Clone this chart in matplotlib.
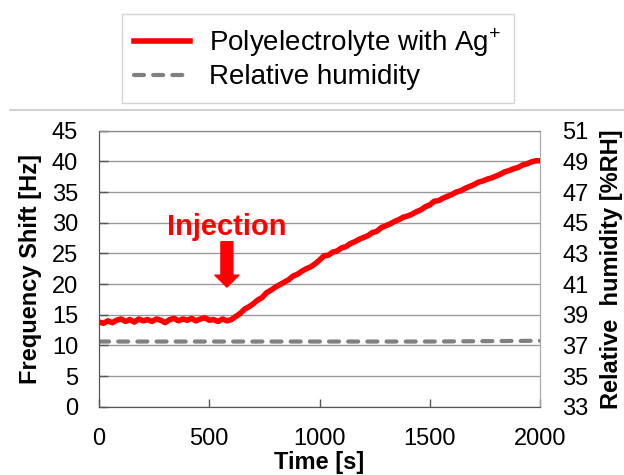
import matplotlib.pyplot as plt
from matplotlib.lines import Line2D

plt.rcParams['font.family'] = ['Liberation Sans', 'DejaVu Sans']
plt.rcParams['mathtext.fontset'] = 'custom'
plt.rcParams['mathtext.rm'] = 'Liberation Sans'

# frequency shift of the polyelectrolyte film, read every 20 s
time_s = list(range(0, 2001, 20))
freq_hz = [13.8, 13.6, 14.0, 13.7, 14.1, 14.3, 13.9, 14.2, 13.8, 14.3,
           14.0, 14.2, 13.9, 14.3, 14.1, 13.7, 14.2, 14.4, 14.0, 14.3,
           14.1, 14.4, 14.0, 14.3, 14.5, 14.1, 14.2, 13.9, 14.3, 14.0,
           14.2, 14.7, 15.2, 15.9, 16.3, 16.8, 17.4, 17.8, 18.6, 19.0,
           19.5, 19.9, 20.3, 20.7, 21.3, 21.6, 22.1, 22.5, 22.8, 23.3,
           23.9, 24.6, 24.7, 25.2, 25.4, 25.9, 26.1, 26.6, 26.9, 27.3,
           27.6, 27.9, 28.4, 28.6, 29.2, 29.5, 29.8, 30.2, 30.5, 30.9,
           31.1, 31.4, 31.8, 32.1, 32.6, 32.9, 33.5, 33.6, 34.0, 34.3,
           34.6, 35.0, 35.2, 35.6, 35.9, 36.2, 36.6, 36.8, 37.1, 37.3,
           37.6, 37.9, 38.3, 38.5, 38.8, 39.0, 39.4, 39.6, 39.9, 40.1,
           40.1]

# relative humidity (right axis)
time_rh = [0, 500, 1000, 1500, 2000]
rh = [37.25, 37.25, 37.25, 37.25, 37.3]

freq_ticks = list(range(0, 46, 5))
rh_ticks = list(range(33, 52, 2))
time_ticks = [0, 500, 1000, 1500, 2000]

injection_t = 580

fig = plt.figure(figsize=(6.24, 4.75), dpi=100)
ax = fig.add_axes([0.1587, 0.1438, 0.7067, 0.581])
ax2 = ax.twinx()

ax.plot(time_s, freq_hz, color='#ff0000', lw=4.0, solid_joinstyle='round',
        label='Polyelectrolyte with Ag$^{\\mathregular{+}}$', zorder=3)
ax2.plot(time_rh, rh, color='#808080', lw=3.0, linestyle=(0, (2.4, 2.2)),
         dash_capstyle='round', label='Relative humidity')
ax.set_zorder(ax2.get_zorder() + 1)
ax.patch.set_visible(False)

ax.set_xlim(0, 2000)
ax.set_ylim(0, 45)
ax2.set_ylim(33, 51)
ax.set_xticks(time_ticks)
ax.set_yticks(freq_ticks)
ax2.set_yticks(rh_ticks)
ax.yaxis.grid(True, color='#9a9a9a', lw=1.0)
ax.set_axisbelow(True)

ax.tick_params(axis='both', direction='in', labelsize=17, pad=15,
               color='#555555', width=1.0)
ax.tick_params(axis='x', length=6)
ax.tick_params(axis='y', length=6.5)
ax2.tick_params(axis='y', length=0, labelsize=17, pad=16)

for a in (ax, ax2):
    a.spines['left'].set_color('#555555')
    a.spines['bottom'].set_color('#555555')
    a.spines['top'].set_color('#8a8a8a')
    a.spines['right'].set_color('#aaaaaa')

ax.set_xlabel('Time [s]', fontsize=17, fontweight='bold', labelpad=1)
ax.set_ylabel('Frequency Shift [Hz]', fontsize=17, fontweight='bold', labelpad=7)
ax2.set_ylabel('Relative  humidity [%RH]', fontsize=17, fontweight='bold',
               labelpad=8)

ax.text(injection_t, 28.0, 'Injection', color='#ff0000', fontsize=21,
        fontweight='bold', ha='center', va='baseline')
ax.annotate('', xy=(injection_t, 19.5), xytext=(injection_t, 26.9),
            arrowprops=dict(arrowstyle='simple,head_length=8.6,head_width=17.3,tail_width=8.6',
                            mutation_scale=1, color='#ff0000', shrinkA=0, shrinkB=0))

h1, l1 = ax.get_legend_handles_labels()
h2, l2 = ax2.get_legend_handles_labels()
leg = fig.legend(h1 + h2, l1 + l2, loc='upper center',
                 bbox_to_anchor=(0.509, 1 - 14 / 475), fontsize=20,
                 frameon=True, fancybox=False, edgecolor='#c8c8c8',
                 handlelength=2.0, handletextpad=0.7, labelspacing=0.2,
                 borderpad=0.45, borderaxespad=0)
leg.get_frame().set_linewidth(1.0)

fig.add_artist(Line2D([10 / 624, 1], [1 - 110 / 475, 1 - 110 / 475],
                      color='#c8c8c8', lw=1.2))

fig.savefig('out.png', dpi=100)
